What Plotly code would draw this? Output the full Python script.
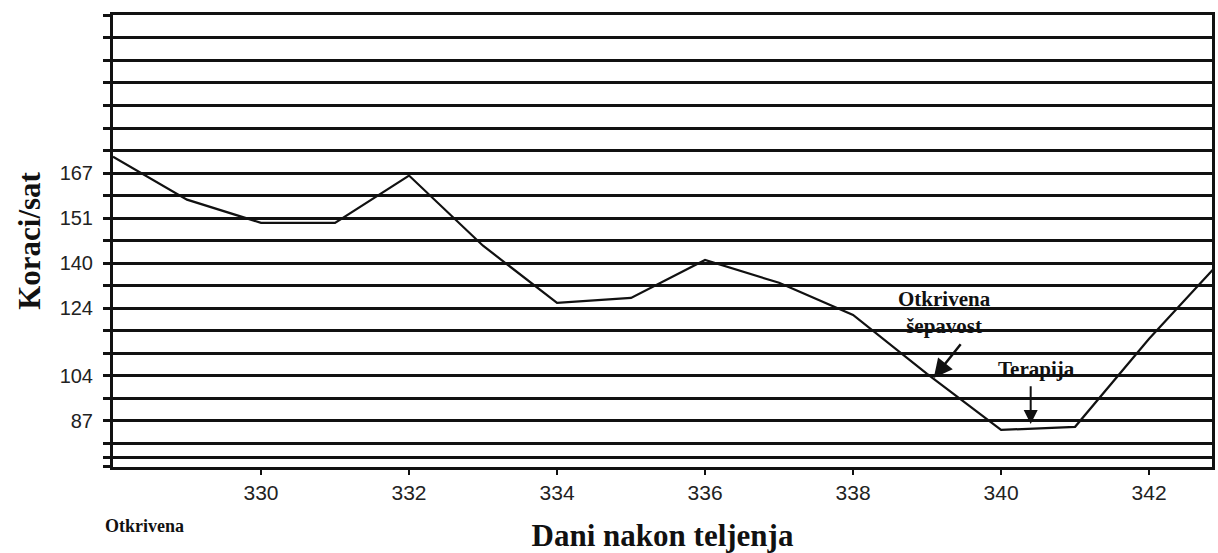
import plotly.graph_objects as go

# Data
days = [328, 329, 330, 331, 332, 333, 334, 335, 336, 337, 338, 339, 340, 341, 342, 343]
steps_per_hour = [172.5, 158.6, 151.1, 151.1, 166.4, 143.7, 125.2, 126.8, 139.1, 131.7,
                  121.3, 102.2, 84.1, 85.1, 113.6, 139.5]

x_ticks = [330, 332, 334, 336, 338, 340, 342]
y_tick_vals = [167.2, 152.6, 138.0, 123.4, 101.6, 87.0, 75.3]
y_tick_text = ["167", "151", "140", "124", "104", "87", ""]

INK = "#111111"
GRID_W = 2.6
serif = "Liberation Serif, Times New Roman, serif"

fig = go.Figure()
fig.add_trace(go.Scatter(
    x=days, y=steps_per_hour, mode="lines",
    line=dict(color=INK, width=2.2), showlegend=False, cliponaxis=True,
))

fig.update_layout(
    width=1218, height=553,
    margin=dict(l=113, r=3, t=15, b=86),
    paper_bgcolor="white", plot_bgcolor="white",
    font=dict(family="Liberation Sans, Arial, sans-serif", color="#222222"),
)

fig.update_xaxes(
    range=[328, 342.85], tickvals=x_ticks, ticktext=[str(v) for v in x_ticks],
    showgrid=False, zeroline=False,
    showline=True, linecolor=INK, linewidth=2.6, mirror=True,
    ticks="outside", ticklen=5, tickwidth=2, tickcolor=INK,
    tickfont=dict(size=21, color="#222222"),
    title=dict(text="<b>Dani nakon teljenja</b>",
               font=dict(family=serif, size=31, color="#111111"),
               standoff=24),
)

fig.update_yaxes(
    range=[72.1, 218.35], tickvals=y_tick_vals, ticktext=y_tick_text,
    showgrid=True, gridcolor=INK, gridwidth=GRID_W, zeroline=False,
    showline=True, linecolor=INK, linewidth=3, mirror=True,
    ticks="outside", ticklen=7, tickwidth=GRID_W, tickcolor=INK,
    tickfont=dict(size=20, color="#222222"), ticklabelstandoff=6,
    minor=dict(tick0=87.0, dtick=7.29, showgrid=True, gridcolor=INK, gridwidth=GRID_W,
               ticks="outside", ticklen=7, tickwidth=GRID_W, tickcolor=INK),
    title=dict(text="<b>Koraci/sat</b>",
               font=dict(family=serif, size=31, color="#111111"),
               standoff=10),
)

# Annotations
fig.add_annotation(x=339.24, y=122.0, text="<b>Otkrivena<br>šepavost</b>", showarrow=False,
                   font=dict(family=serif, size=21, color="#111111"),
                   xanchor="center", yanchor="middle")
fig.add_annotation(x=339.09, y=100.9, ax=339.47, ay=112.3, axref="x", ayref="y",
                   text="", showarrow=True, arrowhead=2, arrowsize=1.5, arrowwidth=2.5,
                   arrowcolor=INK)
fig.add_annotation(x=340.48, y=103.9, text="<b>Terapija</b>", showarrow=False,
                   font=dict(family=serif, size=21, color="#111111"),
                   xanchor="center", yanchor="middle")
fig.add_annotation(x=340.40, y=86.0, ax=340.40, ay=98.7, axref="x", ayref="y",
                   text="", showarrow=True, arrowhead=2, arrowsize=1.4, arrowwidth=2.0,
                   arrowcolor=INK)
fig.add_annotation(xref="paper", yref="paper", x=-0.009, y=-0.13, xanchor="left", yanchor="middle",
                   text="<b>Otkrivena</b>", showarrow=False,
                   font=dict(family=serif, size=18, color="#111111"))

fig.write_html("out.html", config={"displayModeBar": False},
               post_script="document.body.style.margin='0';")
